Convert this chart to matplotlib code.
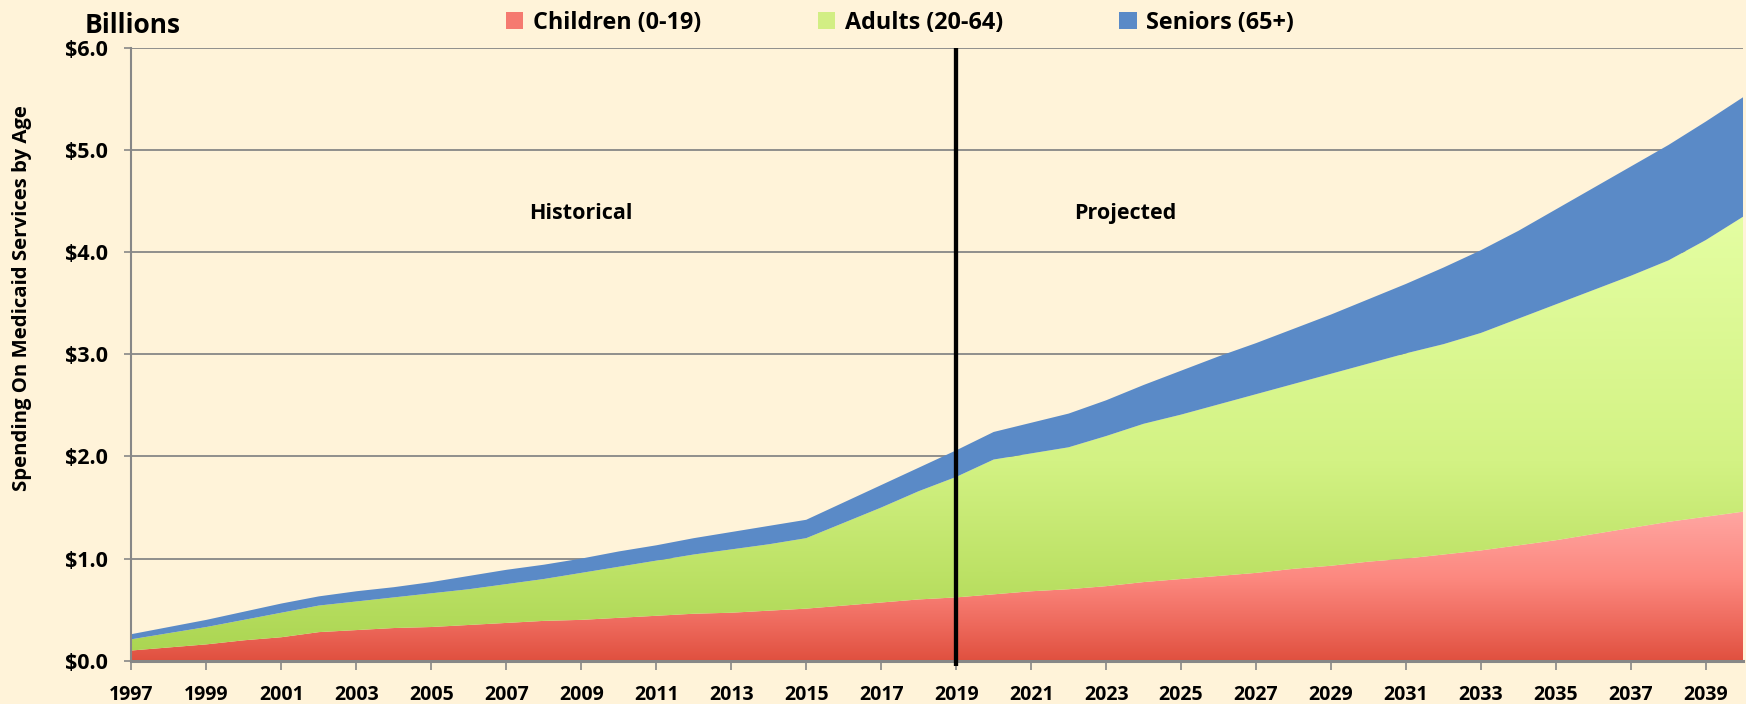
import numpy as np
import matplotlib
matplotlib.use("Agg")
import matplotlib.pyplot as plt
from matplotlib.colors import LinearSegmentedColormap
from matplotlib.patches import Patch, PathPatch

# ---------------- data ----------------
years = list(range(1997, 2041))
children = [0.10, 0.13, 0.16, 0.20, 0.23, 0.28, 0.30, 0.32, 0.33, 0.35,
            0.37, 0.39, 0.40, 0.42, 0.44, 0.46, 0.47, 0.49, 0.51, 0.54,
            0.57, 0.60, 0.62, 0.65, 0.68, 0.70, 0.73, 0.77, 0.80, 0.83,
            0.86, 0.90, 0.93, 0.97, 1.00, 1.04, 1.08, 1.13, 1.18, 1.24,
            1.30, 1.36, 1.41, 1.46]
adults = [0.11, 0.14, 0.17, 0.20, 0.24, 0.26, 0.28, 0.30, 0.33, 0.35,
          0.38, 0.41, 0.46, 0.50, 0.54, 0.58, 0.62, 0.65, 0.69, 0.81,
          0.93, 1.06, 1.18, 1.32, 1.35, 1.39, 1.47, 1.55, 1.61, 1.68,
          1.75, 1.81, 1.88, 1.94, 2.01, 2.06, 2.13, 2.22, 2.31, 2.39,
          2.47, 2.56, 2.71, 2.89]
seniors = [0.05, 0.06, 0.07, 0.08, 0.09, 0.09, 0.10, 0.10, 0.11, 0.13,
           0.14, 0.14, 0.14, 0.15, 0.15, 0.16, 0.17, 0.18, 0.18, 0.20,
           0.22, 0.23, 0.26, 0.27, 0.30, 0.33, 0.35, 0.38, 0.43, 0.47,
           0.50, 0.54, 0.58, 0.63, 0.68, 0.75, 0.81, 0.86, 0.93, 1.00,
           1.07, 1.13, 1.16, 1.17]
series_labels = ["Children (0-19)", "Adults (20-64)", "Seniors (65+)"]
xtick_years = list(range(1997, 2040, 2))
ytick_values = [0, 1, 2, 3, 4, 5, 6]
ytick_labels = ["$0.0", "$1.0", "$2.0", "$3.0", "$4.0", "$5.0", "$6.0"]
divider_year = 2019
section_labels = ["Historical", "Projected"]
section_x = [2009, 2023.5]
section_y = 4.38

# ---------------- style ----------------
BG = "#FFF3D9"
GRID = "#878787"
BLUE = "#5A8AC7"
FONT = ["Open Sans", "DejaVu Sans"]
plt.rcParams["font.family"] = FONT
plt.rcParams["font.weight"] = "bold"

fig = plt.figure(figsize=(17.46, 7.04), dpi=100, facecolor=BG)
ax = fig.add_axes([0.0753, 0.0615, 0.9232, 0.8703])
ax.set_facecolor(BG)

x = np.array(years, dtype=float)
c = np.array(children)
a = np.array(adults)
s = np.array(seniors)
y1 = c
y2 = c + a
y3 = c + a + s


def gradient_fill(lower, upper, stops, vmax, z):
    poly = ax.fill_between(x, lower, upper, facecolor="none",
                           edgecolor="none", linewidth=0, zorder=z)
    path = poly.get_paths()[0]
    patch = PathPatch(path, transform=ax.transData, facecolor="none",
                      edgecolor="none")
    ax.add_patch(patch)
    cmap = LinearSegmentedColormap.from_list("g", stops)
    grad = np.linspace(0, 1, 512).reshape(-1, 1)
    im = ax.imshow(grad, cmap=cmap, aspect="auto", origin="lower",
                   extent=[x[0], x[-1], 0, vmax], zorder=z,
                   interpolation="bilinear")
    im.set_clip_path(patch)


red_stops = [(0.0, "#E0503F"), (0.25, "#EE6A5D"), (0.55, "#FC887F"),
             (1.0, "#FFA6A2")]
green_stops = [(0.0, "#A9D450"), (0.2, "#BDE266"), (0.45, "#D3F284"),
               (1.0, "#E4FEA2")]

gradient_fill(np.zeros_like(x), y1, red_stops, y1.max(), 2)
gradient_fill(y1, y2, green_stops, y2.max(), 2)
ax.fill_between(x, y2, y3, facecolor=BLUE, edgecolor="none", linewidth=0,
                zorder=2)

ax.set_xlim(years[0], years[-1])
ax.set_ylim(0, 6)

# grid
ax.set_yticks(ytick_values)
ax.set_yticklabels(ytick_labels)
ax.yaxis.grid(True, color=GRID, linewidth=1.3, zorder=1)
ax.set_axisbelow(True)
ax.set_xticks(xtick_years)
ax.set_xticklabels([str(v) for v in xtick_years])

for sp in ["top", "right"]:
    ax.spines[sp].set_visible(False)
ax.spines["left"].set_color(GRID)
ax.spines["left"].set_linewidth(1.5)
ax.spines["bottom"].set_color(GRID)
ax.spines["bottom"].set_linewidth(2.2)
ax.spines["bottom"].set_zorder(5)

ax.tick_params(axis="x", direction="out", length=6.5, width=1.2, color=GRID,
               pad=11, labelsize=14)
ax.tick_params(axis="y", direction="out", length=5, width=1.2, color=GRID,
               pad=12, labelsize=15.5)
for lbl in ax.get_xticklabels() + ax.get_yticklabels():
    lbl.set_fontweight("bold")

# divider
ax.plot([divider_year, divider_year], [-0.05, 6.0], color="black", lw=3.1,
        zorder=6, clip_on=False, solid_capstyle="butt")

for lab, xx in zip(section_labels, section_x):
    ax.text(xx, section_y, lab, ha="center", va="center", fontsize=15.5,
            fontweight="bold", zorder=7)

# labels
fig.text(85 / 1746, 1 - 33 / 704, "Billions", ha="left", va="baseline",
         fontsize=19, fontweight="bold")
fig.text(21.7 / 1746, 1 - 298 / 704, "Spending On Medicaid Services by Age",
         rotation=90, ha="center", va="center", fontsize=14.7,
         fontweight="bold")

handles = [Patch(facecolor="#F57A70", edgecolor="none"),
           Patch(facecolor="#D2EE84", edgecolor="none"),
           Patch(facecolor=BLUE, edgecolor="none")]
fig.legend(handles, series_labels, loc="center", ncol=3,
           bbox_to_anchor=(0.5155, 1 - 23 / 704), frameon=False,
           prop={"size": 16.8, "weight": "bold"}, handlelength=0.75,
           handleheight=0.75, handletextpad=0.4, columnspacing=5.0,
           borderaxespad=0)

fig.savefig("out.png", dpi=100, facecolor=BG)
